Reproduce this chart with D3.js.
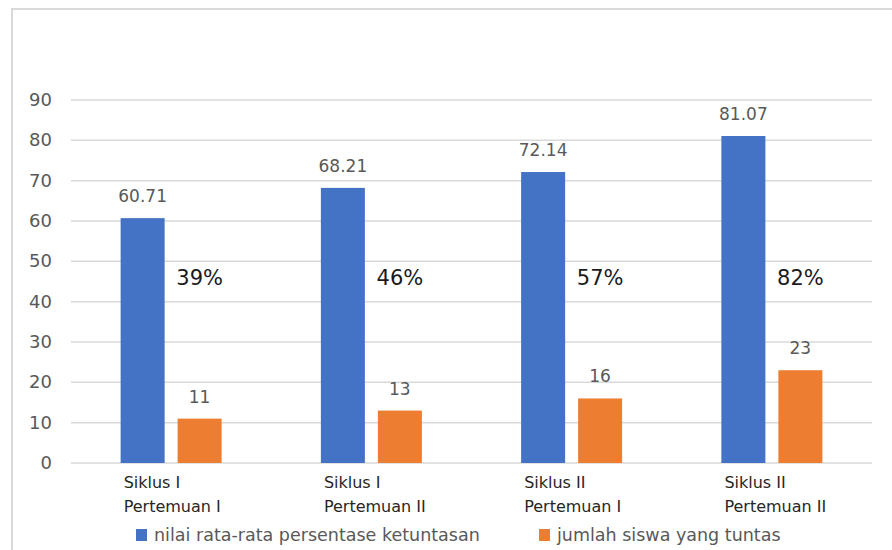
<!DOCTYPE html>
<html>
<head>
<meta charset="utf-8">
<script src="https://cdn.jsdelivr.net/npm/d3@7"></script>
<style>
  body { margin: 0; background: #fff; }
  svg { display: block; font-family: "DejaVu Sans", sans-serif; }
</style>
</head>
<body>
<svg width="892" height="550"></svg>
<script>
// data
var categories = [["Siklus I", "Pertemuan I"], ["Siklus I", "Pertemuan II"], ["Siklus II", "Pertemuan I"], ["Siklus II", "Pertemuan II"]];
var seriesNames = ["nilai rata-rata persentase ketuntasan", "jumlah siswa yang tuntas"];
var nilai = [60.71, 68.21, 72.14, 81.07];
var jumlah = [11, 13, 16, 23];
var persen = ["39%", "46%", "57%", "82%"];
var yTicks = [0, 10, 20, 30, 40, 50, 60, 70, 80, 90];
var colors = ["#4472C4", "#ED7D31"];

var svg = d3.select("svg");

// outer chart border (only top + left show in the crop)
svg.append("path")
    .attr("d", "M12,900 L12,9 L900,9")
    .attr("fill", "none")
    .attr("stroke", "#d9d9d9")
    .attr("stroke-width", 2);

var plotL = 71, plotR = 872, plotT = 100, plotB = 463;

var y = d3.scaleLinear().domain([0, 90]).range([plotB, plotT]);
var x0 = d3.scaleBand().domain(d3.range(categories.length)).range([plotL, plotR]);
var x1 = d3.scaleBand().domain([0, 1])
    .range([x0.bandwidth() / 2 - 50.5, x0.bandwidth() / 2 + 50.5])
    .paddingInner(0.228);

// gridlines
svg.append("g").selectAll("line")
  .data(yTicks)
  .enter().append("line")
    .attr("x1", plotL).attr("x2", plotR)
    .attr("y1", function(d) { return y(d); })
    .attr("y2", function(d) { return y(d); })
    .attr("stroke", "#d9d9d9")
    .attr("stroke-width", 1.5);

// y labels
svg.append("g").selectAll("text")
  .data(yTicks)
  .enter().append("text")
    .attr("x", 52)
    .attr("y", function(d) { return y(d) + 6; })
    .attr("text-anchor", "end")
    .attr("font-size", "18px")
    .attr("fill", "#595959")
    .text(function(d) { return d; });

var rows = categories.map(function(c, i) {
  return { i: i, vals: [nilai[i], jumlah[i]] };
});

var group = svg.selectAll(".grp")
  .data(rows)
  .enter().append("g")
    .attr("class", "grp")
    .attr("transform", function(d) { return "translate(" + x0(d.i) + ",0)"; });

var bar = group.selectAll("g")
  .data(function(d) { return d.vals.map(function(v, s) { return { s: s, v: v }; }); })
  .enter().append("g");

bar.append("rect")
    .attr("x", function(d) { return x1(d.s); })
    .attr("y", function(d) { return y(d.v); })
    .attr("width", x1.bandwidth())
    .attr("height", function(d) { return plotB - y(d.v); })
    .attr("fill", function(d) { return colors[d.s]; });

bar.append("text")
    .attr("x", function(d) { return x1(d.s) + x1.bandwidth() / 2; })
    .attr("y", function(d) { return y(d.v) - 16; })
    .attr("text-anchor", "middle")
    .attr("font-size", "17px")
    .attr("fill", "#595959")
    .text(function(d) { return d.v; });

// percentage notes
group.append("text")
    .attr("x", x1(1) + x1.bandwidth() / 2)
    .attr("y", 285)
    .attr("text-anchor", "middle")
    .attr("font-size", "21px")
    .attr("fill", "#1a1a1a")
    .text(function(d) { return persen[d.i]; });

// category labels
group.append("text")
    .attr("font-size", "16px")
    .attr("fill", "#262626")
    .selectAll("tspan")
    .data(function(d) { return categories[d.i]; })
    .enter().append("tspan")
      .attr("x", x1(0) + 3)
      .attr("y", function(d, i) { return 488 + i * 24; })
      .text(function(d) { return d; });

// legend
var legX = [136, 539];
var legend = svg.selectAll(".legend")
  .data(seriesNames)
  .enter().append("g")
    .attr("class", "legend")
    .attr("transform", function(d, i) { return "translate(" + legX[i] + ",529)"; });

legend.append("rect")
    .attr("width", 11)
    .attr("height", 12)
    .attr("fill", function(d, i) { return colors[i]; });

legend.append("text")
    .attr("x", 18)
    .attr("y", 12)
    .attr("font-size", "17.5px")
    .attr("fill", "#595959")
    .text(function(d) { return d; });
</script>
</body>
</html>
